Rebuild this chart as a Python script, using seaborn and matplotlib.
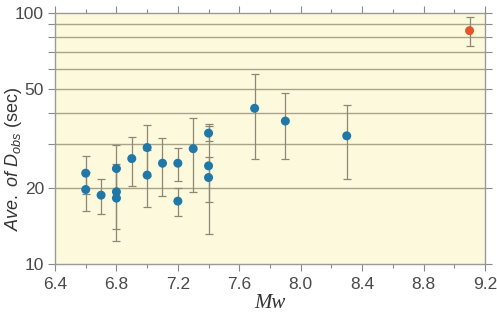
import matplotlib
matplotlib.use("Agg")
import matplotlib.pyplot as plt
import matplotlib.ticker as mticker
import pandas as pd
import seaborn as sns


# Magnitude, mean observed duration and its spread
mw = [6.6, 6.6, 6.7, 6.8, 6.8, 6.8, 6.9, 7.0, 7.0, 7.1,
      7.2, 7.2, 7.3, 7.4, 7.4, 7.4, 7.7, 7.9, 8.3, 9.1]
d_obs = [23.0, 19.8, 18.8, 24.0, 19.4, 18.3, 26.3, 29.1, 22.6, 25.2,
         25.2, 17.8, 28.8, 33.2, 24.6, 22.1, 41.7, 37.1, 32.4, 85.0]
d_err = [4.0, 3.5, 3.0, 5.7, 5.6, 5.9, 5.9, 6.7, 5.8, 6.5,
         3.7, 2.3, 9.4, 2.2, 11.4, 4.5, 15.4, 11.0, 10.6, 11.3]
group = ["other"] * 19 + ["largest"]

y_major = [10, 20, 50, 100]
y_minor = [30, 40, 60, 70, 80, 90]
grid_lines = [20, 30, 40, 50, 60, 70, 80, 90]

df = pd.DataFrame({"mw": mw, "d_obs": d_obs, "err": d_err, "group": group})

sns.set_style("ticks")
plt.rcParams["font.family"] = ["Liberation Sans", "DejaVu Sans"]
plt.rcParams["mathtext.fontset"] = "custom"
plt.rcParams["mathtext.it"] = "Liberation Sans:italic"
plt.rcParams["mathtext.rm"] = "Liberation Sans"

fig = plt.figure(figsize=(4.97, 3.15), dpi=100)
ax = fig.add_axes([0.1107, 0.1619, 0.865, 0.797])
ax.set_facecolor("#fdf9dd")

for v in grid_lines:
    ax.axhline(v, color="#a8a38a", linewidth=1.0, zorder=1)

ax.errorbar(
    df["mw"], df["d_obs"], yerr=df["err"],
    fmt="none", ecolor="#8c8874", elinewidth=0.9,
    capsize=3.2, capthick=0.9, zorder=2
)

sns.scatterplot(
    data=df, x="mw", y="d_obs", hue="group",
    palette={"other": "#1f78a8", "largest": "#e4532c"},
    s=42, edgecolor="none", legend=False, zorder=3, ax=ax
)

ax.set_yscale("log")
ax.set_xlim(6.4, 9.2)
ax.set_ylim(10, 100)

ax.xaxis.set_major_locator(mticker.MultipleLocator(0.4))
ax.xaxis.set_minor_locator(mticker.MultipleLocator(0.2))
ax.xaxis.set_major_formatter(mticker.FormatStrFormatter("%.1f"))
ax.yaxis.set_major_locator(mticker.FixedLocator(y_major))
ax.yaxis.set_minor_locator(mticker.FixedLocator(y_minor))
ax.yaxis.set_major_formatter(mticker.FixedFormatter([str(v) for v in y_major]))
ax.yaxis.set_minor_formatter(mticker.NullFormatter())

ax.tick_params(which="both", direction="out", top=True, right=True,
               color="#8a8a8a", labelcolor="#4a4a4a", labelsize=12.5)
ax.tick_params(which="major", length=5, width=0.8, pad=3)
ax.tick_params(which="minor", length=5, width=0.8)
ax.tick_params(axis="x", which="minor", length=3)
ax.tick_params(axis="x", which="major", pad=4)

for side in ["left", "right", "top", "bottom"]:
    ax.spines[side].set_visible(True)
    ax.spines[side].set_color("#9a9a9a")
    ax.spines[side].set_linewidth(1.0)

ax.set_ylabel(r"$\mathit{Ave.\ of\ D_{obs}}$ (sec)",
              fontsize=13, color="#333333")
ax.yaxis.set_label_coords(-0.072, 0.42)
ax.set_xlabel("Mw", fontsize=15, color="#333333", style="italic",
              family=["Liberation Serif", "DejaVu Serif"])
ax.xaxis.set_label_coords(0.5, -0.118)

fig.savefig("out.png", dpi=100)
